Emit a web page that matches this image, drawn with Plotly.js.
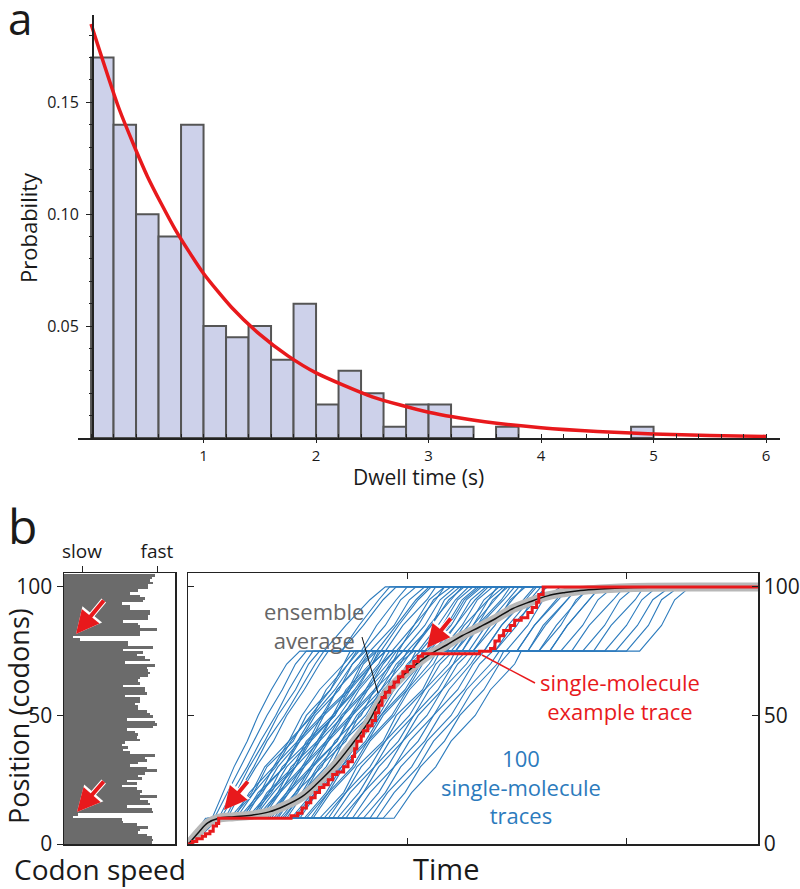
<!DOCTYPE html>
<html>
<head>
<meta charset="utf-8">
<script src="https://cdn.plot.ly/plotly-3.0.1.min.js"></script>
<style>html,body{margin:0;padding:0;background:#fff;}#chart{width:800px;height:889px;}</style>
</head>
<body>
<div id="chart"></div>
<script>
// ---------- Panel a: dwell-time histogram ----------
const binLeft = [0,0.2,0.4,0.6,0.8,1.0,1.2,1.4,1.6,1.8,2.0,2.2,2.4,2.6,2.8,3.0,3.2,3.6,4.8];
const binProb = [0.17,0.14,0.10,0.09,0.14,0.05,0.045,0.05,0.035,0.06,0.015,0.03,0.02,0.005,0.015,0.015,0.005,0.005,0.005];
const fitT = [0,0.25,0.5,0.75,1.0,1.25,1.5,1.75,2.0,2.5,3.0,3.5,4.0,4.5,5.0,5.5,6.0];
const fitP = [0.185,0.147,0.117,0.093,0.0735,0.0583,0.0463,0.0367,0.0291,0.0184,0.0115,0.0073,0.0046,0.0029,0.0018,0.0011,0.0007];

// ---------- Panel b left: codon speed profile (codon 0 .. 104) ----------
const codonSpeed = [
 88,89,88,83,74,76,84,73,59,58,
 9,14,89,88,63,86,84,76,93,76,
 78,73,58,73,63,78,74,81,93,83,
 66,74,83,81,91,66,59,64,58,61,
 76,73,74,71,63,89,93,91,63,89,
 86,83,74,74,71,76,76,61,83,81,
 81,59,76,74,76,84,86,84,83,91,
 61,86,81,73,79,59,89,64,64,16,
 9,76,76,93,76,74,59,84,84,86,
 86,66,66,58,79,81,76,66,74,84,
 84,89,86,88,91];
const speedTickVals = [18,93];
const speedTickText = ['slow','fast'];

// ---------- Panel b main: position vs time ----------
const tracePos = [0,5,10,10,20,30,40,50,60,70,75,75,85,95,100,100];
const traceTimes = [
 [0,.04,.08,.11,.16,.21,.27,.32,.38,.45,.51,.70,.78,.87,.92,2.29],
 [0,.06,.10,.14,.20,.27,.33,.40,.46,.53,.57,.79,.86,.95,1.00,2.29],
 [0,.05,.11,.17,.23,.30,.36,.44,.51,.58,.62,.70,.80,.89,.95,2.29],
 [0,.07,.12,.19,.29,.35,.46,.52,.60,.71,.74,.96,1.03,1.13,1.17,2.29],
 [0,.04,.13,.21,.28,.39,.46,.57,.63,.73,.77,.83,.94,1.01,1.08,2.29],
 [0,.06,.10,.23,.33,.39,.50,.57,.67,.75,.81,1.09,1.19,1.26,1.33,2.29],
 [0,.08,.14,.25,.32,.44,.50,.61,.68,.78,.82,.90,.98,1.09,1.13,2.29],
 [0,.05,.12,.27,.37,.43,.55,.61,.73,.79,.85,1.25,1.32,1.43,1.47,2.29],
 [0,.07,.11,.29,.36,.48,.54,.66,.72,.83,.86,1.00,1.11,1.17,1.24,2.29],
 [0,.06,.15,.31,.41,.47,.59,.66,.76,.84,.90,.95,1.05,1.12,1.20,2.29],
 [0,.04,.09,.33,.41,.52,.59,.69,.77,.87,.90,1.40,1.48,1.59,1.63,2.29],
 [0,.07,.13,.35,.45,.52,.63,.70,.81,.88,.94,1.15,1.25,1.32,1.39,2.29],
 [0,.05,.12,.37,.45,.56,.63,.74,.81,.91,.95,1.02,1.11,1.19,1.26,2.29],
 [0,.06,.14,.39,.49,.56,.68,.74,.85,.92,.98,1.30,1.38,1.48,1.53,2.29],
 [0,.08,.11,.41,.49,.61,.67,.79,.85,.97,1.00,1.08,1.18,1.25,1.32,2.29],
 [0,.05,.13,.43,.53,.60,.72,.78,.90,.96,1.03,1.55,1.62,1.73,1.78,2.29],
 [0,.07,.12,.45,.53,.65,.71,.83,.89,1.01,1.04,1.20,1.30,1.37,1.44,2.29],
 [0,.06,.10,.48,.58,.65,.76,.83,.94,1.01,1.08,1.12,1.22,1.29,1.36,2.29],
 [0,.05,.14,.51,.59,.70,.78,.88,.96,1.06,1.10,1.35,1.43,1.54,1.59,2.29],
 [0,.07,.13,.54,.64,.71,.82,.89,1.00,1.07,1.13,1.70,1.80,1.87,1.94,2.29],
 [0,.06,.11,.57,.65,.76,.83,.94,1.01,1.12,1.15,1.25,1.33,1.44,1.49,2.29],
 [0,.05,.12,.60,.71,.77,.89,.95,1.07,1.13,1.19,1.45,1.55,1.62,1.70,2.29],
 [0,.08,.14,.64,.72,.83,.90,1.01,1.08,1.19,1.22,1.30,1.40,1.47,1.54,2.29],
 [0,.06,.13,.68,.78,.85,.96,1.03,1.14,1.21,1.27,1.85,1.93,2.04,2.08,2.29],
 [0,.05,.10,.72,.80,.91,.98,1.09,1.16,1.27,1.31,1.60,1.70,1.77,1.84,2.29],
 [0,.07,.12,.77,.87,.94,1.05,1.12,1.23,1.30,1.35,1.50,1.58,1.69,1.74,2.29],
 [0,.06,.13,.83,.91,1.02,1.09,1.20,1.27,1.38,1.42,2.06,2.16,2.22,2.29,2.29],
 [0,.05,.11,.89,.99,1.06,1.17,1.24,1.35,1.42,1.47,1.75,1.83,1.94,1.99,2.29],
 [0,.07,.14,.94,1.02,1.13,1.20,1.31,1.38,1.49,1.52,1.95,2.05,2.12,2.20,2.29],
 [0,.06,.12,.20,.30,.36,.48,.54,.65,.71,.76,1.60,1.68,1.78,1.83,2.29],
 [0,.05,.11,.30,.37,.49,.55,.67,.73,.84,.87,2.00,2.10,2.16,2.24,2.29],
 [0,.07,.13,.40,.50,.57,.68,.75,.86,.93,.98,1.18,1.26,1.37,1.41,2.29],
 [0,.05,.09,.12,.18,.24,.30,.36,.43,.49,.54,.62,.72,.83,.90,2.29],
 [0,.06,.11,.15,.22,.28,.35,.41,.49,.55,.60,.88,.96,1.05,1.11,2.29],
 [0,.05,.09,.18,.24,.31,.39,.45,.53,.60,.64,.80,.90,.97,1.04,2.29],
 [0,.07,.13,.22,.30,.40,.47,.56,.65,.73,.78,1.02,1.10,1.20,1.25,2.29],
 [0,.05,.11,.24,.34,.41,.51,.58,.69,.75,.80,.86,.95,1.04,1.10,2.29],
 [0,.06,.12,.26,.33,.44,.51,.62,.68,.79,.83,1.14,1.22,1.31,1.37,2.29],
 [0,.04,.10,.28,.38,.45,.56,.62,.74,.80,.86,.93,1.03,1.10,1.17,2.29],
 [0,.07,.13,.30,.39,.49,.56,.67,.74,.84,.88,1.05,1.14,1.22,1.28,2.29],
 [0,.06,.11,.32,.42,.49,.60,.66,.77,.84,.90,1.35,1.43,1.53,1.58,2.29],
 [0,.05,.12,.34,.42,.53,.60,.71,.78,.88,.92,.98,1.08,1.15,1.22,2.29],
 [0,.07,.14,.36,.46,.53,.64,.71,.82,.89,.94,1.22,1.30,1.40,1.45,2.29],
 [0,.05,.10,.38,.46,.57,.64,.75,.82,.93,.96,1.10,1.20,1.27,1.34,2.29],
 [0,.06,.13,.42,.52,.59,.70,.77,.88,.95,1.01,1.28,1.36,1.46,1.51,2.29],
 [0,.04,.11,.44,.52,.63,.70,.81,.88,.98,1.02,1.06,1.16,1.23,1.30,2.29],
 [0,.07,.12,.47,.57,.64,.75,.82,.93,1.00,1.06,1.38,1.46,1.56,1.61,2.29],
 [0,.06,.14,.50,.58,.69,.76,.87,.94,1.05,1.08,1.22,1.32,1.39,1.46,2.29],
 [0,.05,.11,.53,.63,.70,.81,.88,.99,1.06,1.12,1.50,1.58,1.68,1.73,2.29],
 [0,.07,.13,.56,.64,.75,.82,.93,1.00,1.10,1.14,1.18,1.28,1.35,1.42,2.29],
 [0,.06,.12,.62,.72,.79,.90,.97,1.08,1.15,1.21,1.65,1.73,1.83,1.88,2.29],
 [0,.05,.10,.66,.74,.85,.92,1.03,1.10,1.21,1.24,1.40,1.50,1.57,1.64,2.29],
 [0,.07,.13,.70,.80,.87,.98,1.05,1.16,1.23,1.29,1.55,1.63,1.73,1.78,2.29],
 [0,.06,.11,.75,.83,.94,1.01,1.12,1.19,1.29,1.33,1.80,1.90,1.97,2.04,2.29],
 [0,.05,.12,.80,.90,.97,1.08,1.15,1.26,1.33,1.39,1.65,1.73,1.83,1.88,2.29],
 [0,.07,.14,.86,.94,1.05,1.12,1.23,1.30,1.41,1.44,1.90,2.00,2.07,2.14,2.29]
];
const ensT = [0,0.01,0.05,0.09,0.14,0.21,0.29,0.37,0.44,0.52,0.59,0.67,0.75,0.82,0.88,0.95,1.03,1.1,1.18,1.25,1.33,1.4,1.48,1.56,1.64,1.72,1.79,1.88,1.97,2.1,2.3,2.6];
const ensP = [0,0.8,4.7,8.2,10,10.6,11.2,12.5,14.8,18.4,23.6,30.5,39,47,56,63,69.2,73.6,77.4,81,84.4,87.5,91.5,94.2,96.5,97.8,98.6,99.2,99.6,99.9,100,100];
const redT = [0,0.02,0.04,0.065,0.08,0.1,0.115,0.13,0.14,0.47,0.5,0.52,0.54,0.56,0.58,0.6,0.62,0.64,0.66,0.68,0.71,0.73,0.75,0.76,0.77,0.79,0.8,0.82,0.84,0.855,0.87,0.885,0.9,0.92,0.94,0.96,0.98,1.0,1.03,1.05,1.07,1.33,1.38,1.4,1.42,1.44,1.47,1.49,1.52,1.55,1.57,1.59,1.6,1.62,2.6];
const redP = [0,1,2,3,4,5,7,8,10,11,12,14,16,18,20,22,23,25,27,28,30,32,34,37,40,42,44,46,48,51,54,57,59,61,63,65,67,69,71,73,74,75,76,79,81,83,85,87,88,90,92,94,97,100,100];

const FONT = '"Open Sans", "DejaVu Sans", sans-serif';
const RED = '#e8191c';
const BLUE = '#2c7bbd';

const codonIdx = codonSpeed.map((_, i) => i);

const data = [];
// panel a
data.push({type:'bar', x: binLeft, y: binProb, offset: 0, width: 0.2, xaxis:'x', yaxis:'y',
  marker:{color:'#cdd1ea', line:{color:'#555555', width:2}}, hoverinfo:'skip'});
data.push({type:'scatter', mode:'lines', x: fitT, y: fitP, xaxis:'x', yaxis:'y',
  line:{color:RED, width:3.5, shape:'spline', smoothing:0.6}, hoverinfo:'skip'});
// panel b left
data.push({type:'bar', orientation:'h', x: codonSpeed, y: codonIdx, offset: 0, width: 1,
  xaxis:'x2', yaxis:'y2', marker:{color:'#6b6b6b', line:{width:0}}, hoverinfo:'skip'});
// panel b main
traceTimes.forEach(tt => {
  data.push({type:'scatter', mode:'lines', x: tt, y: tracePos, xaxis:'x4', yaxis:'y4',
    line:{color:BLUE, width:1.1}, hoverinfo:'skip'});
});
data.push({type:'scatter', mode:'lines', x: ensT, y: ensP, xaxis:'x4', yaxis:'y4',
  line:{color:'#b8b8b8', width:9, shape:'spline'}, hoverinfo:'skip'});
data.push({type:'scatter', mode:'lines', x: ensT, y: ensP, xaxis:'x4', yaxis:'y4',
  line:{color:'#111', width:1.5, shape:'spline'}, hoverinfo:'skip'});
data.push({type:'scatter', mode:'lines', x: redT, y: redP, xaxis:'x4', yaxis:'y4',
  line:{color:RED, width:3, shape:'hv'}, hoverinfo:'skip'});

const W = 800, H = 889;
const px = v => v / W;
const py = v => 1 - v / H;

function txt(text, x, y, size, color, extra) {
  return Object.assign({text, x: px(x), y: py(y), xref:'paper', yref:'paper', showarrow:false,
    xanchor:'center', yanchor:'middle', font:{family:FONT, size, color: color || '#1a1a1a'}}, extra || {});
}
function arrow(tipX, tipY, tailX, tailY, color, width, size) {
  return {x: px(tipX), y: py(tipY), xref:'paper', yref:'paper', text:'', showarrow:true,
    ax: tailX - tipX, ay: tailY - tipY, axref:'pixel', ayref:'pixel',
    arrowhead:2, arrowsize:size, arrowwidth:width, arrowcolor:color, standoff:0, startstandoff:0};
}

const annotations = [
  txt('a', 6, 18, 44, '#1a1a1a', {xanchor:'left'}),
  txt('b', 6, 525, 48, '#1a1a1a', {xanchor:'left'}),
  txt('Probability', 28, 228, 22, null, {textangle:-90}),
  txt('Dwell time (s)', 418, 477, 21),
  txt('Position (codons)', 18, 716, 27, null, {textangle:-90}),
  txt('Codon speed', 100, 869, 28),
  txt('Time', 446, 868, 29),
  txt('ensemble<br>average', 314, 625, 22, '#666666'),
  txt('single-molecule<br>example trace', 620, 696, 22, RED),
  txt('100<br>single-molecule<br>traces', 521, 786, 22, BLUE),
  arrow(224, 810, 249, 780, '#ffffff', 6, 0.85),
  arrow(224, 810, 249, 780, RED, 4, 1.15),
  arrow(427, 648, 452, 617, '#ffffff', 6, 0.85),
  arrow(427, 648, 452, 617, RED, 4, 1.15),
  arrow(76, 634, 105, 599, '#ffffff', 6, 0.85),
  arrow(76, 634, 105, 599, RED, 4, 1.15),
  arrow(77, 812, 105, 780, '#ffffff', 6, 0.85),
  arrow(77, 812, 105, 780, RED, 4, 1.15)
];

const shapes = [
  {type:'line', xref:'paper', yref:'paper', x0:px(362), y0:py(637), x1:px(378), y1:py(693), line:{color:'#111', width:1}},
  {type:'line', xref:'paper', yref:'paper', x0:px(482), y0:py(655), x1:px(535), y1:py(683), line:{color:RED, width:1.5}}
];

const AX = '#222';
const layout = {
  width: W, height: H,
  margin: {l:0, r:0, t:0, b:0},
  paper_bgcolor:'#ffffff', plot_bgcolor:'rgba(0,0,0,0)',
  showlegend:false, bargap:0,
  font:{family:FONT, color:'#1a1a1a'},
  xaxis: {domain:[px(78), px(780)], range:[-0.116, 6.124], anchor:'y',
    showline:true, linecolor:AX, linewidth:1.5, showgrid:false, zeroline:false,
    tickmode:'array', tickvals:[1,2,3,4,5,6], ticks:'outside', ticklen:3, tickcolor:AX, tickwidth:1,
    tickfont:{size:15, family:FONT}, minor:{ticks:'inside', tick0:0, dtick:0.2, ticklen:4, tickcolor:AX, showgrid:false},
    fixedrange:true},
  yaxis: {domain:[py(438), py(15)], range:[0, 0.189], anchor:'free', position:px(92),
    showline:true, linecolor:AX, linewidth:1.5, showgrid:false, zeroline:false,
    tickmode:'array', tickvals:[0.05,0.10,0.15], ticktext:['0.05','0.10','0.15'],
    ticks:'outside', ticklen:6, tickcolor:AX, tickfont:{size:16, family:FONT}, ticklabelstandoff:4,
    minor:{ticks:'outside', tick0:0, dtick:0.01, ticklen:3, tickcolor:AX, showgrid:false},
    fixedrange:true},
  xaxis2: {domain:[px(64), px(175)], range:[0, 111], anchor:'y2', side:'top',
    showline:true, mirror:true, linecolor:AX, linewidth:1.5, showgrid:false, zeroline:false,
    tickmode:'array', tickvals:speedTickVals, ticktext:speedTickText, ticks:'outside', ticklen:6, tickcolor:AX,
    tickfont:{size:19, family:FONT}, fixedrange:true},
  yaxis2: {domain:[py(844), py(573)], range:[0, 105.4], anchor:'x2',
    showline:true, mirror:true, linecolor:AX, linewidth:1.5, showgrid:false, zeroline:false,
    tickmode:'array', tickvals:[0,50,100], ticks:'outside', ticklen:6, tickcolor:AX,
    tickfont:{size:21, family:FONT}, fixedrange:true},
  yaxis3: {domain:[py(844), py(573)], range:[0, 105.4], anchor:'x2', overlaying:'y2', side:'right',
    showline:false, showgrid:false, zeroline:false, tickmode:'array', tickvals:[50,100],
    ticks:'inside', ticklen:5, tickcolor:AX, showticklabels:false, fixedrange:true},
  xaxis4: {domain:[px(188), px(758)], range:[0, 2.6], anchor:'y4',
    showline:true, mirror:'ticks', linecolor:AX, linewidth:1.5, showgrid:false, zeroline:false,
    tickmode:'array', tickvals:[1,2], ticks:'inside', ticklen:6, tickcolor:AX, showticklabels:false, fixedrange:true},
  yaxis4: {domain:[py(844), py(573)], range:[0, 105.4], anchor:'x4', side:'right',
    showline:true, mirror:'ticks', linecolor:AX, linewidth:1.5, showgrid:false, zeroline:false,
    tickmode:'array', tickvals:[0,50,100], ticks:'inside', ticklen:6, tickcolor:AX, ticklabelstandoff:0,
    tickfont:{size:21, family:FONT}, fixedrange:true},
  annotations, shapes
};

Plotly.newPlot('chart', data, layout, {staticPlot:true, displayModeBar:false});
</script>
</body>
</html>
